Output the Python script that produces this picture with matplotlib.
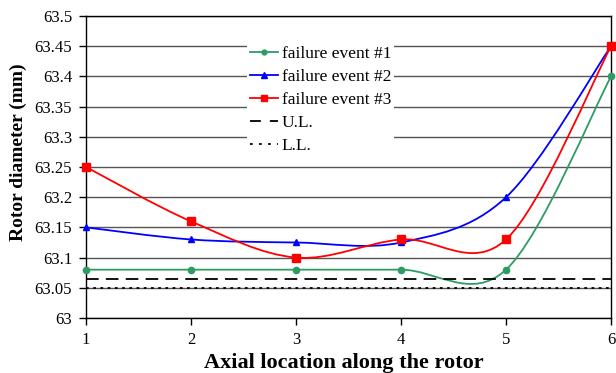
import numpy as np
import matplotlib
matplotlib.use("Agg")
import matplotlib.pyplot as plt
from matplotlib.path import Path
from matplotlib.patches import PathPatch
from matplotlib.lines import Line2D

plt.rcParams['font.family'] = ['Liberation Serif', 'DejaVu Serif']

x = [1, 2, 3, 4, 5, 6]
event1 = [63.08, 63.08, 63.08, 63.08, 63.08, 63.40]
event2 = [63.15, 63.13, 63.125, 63.125, 63.20, 63.45]
event3 = [63.25, 63.16, 63.10, 63.13, 63.13, 63.45]
upper_limit = 63.065
lower_limit = 63.05
labels = ['failure event #1', 'failure event #2', 'failure event #3', 'U.L.', 'L.L.']
ytick_labels = ['63', '63.05', '63.1', '63.15', '63.2', '63.25', '63.3', '63.35', '63.4', '63.45', '63.5']

def smooth_path(xs, ys):
    xs = np.asarray(xs, float); ys = np.asarray(ys, float)
    n = len(xs)
    verts = [(xs[0], ys[0])]
    codes = [Path.MOVETO]
    for i in range(n - 1):
        p0 = np.array([xs[max(i - 1, 0)], ys[max(i - 1, 0)]])
        p1 = np.array([xs[i], ys[i]])
        p2 = np.array([xs[i + 1], ys[i + 1]])
        p3 = np.array([xs[min(i + 2, n - 1)], ys[min(i + 2, n - 1)]])
        c1 = p1 + (p2 - p0) / 6.0
        c2 = p2 - (p3 - p1) / 6.0
        verts += [tuple(c1), tuple(c2), tuple(p2)]
        codes += [Path.CURVE4] * 3
    return Path(verts, codes)

fig = plt.figure(figsize=(6.16, 3.73), dpi=100)
ax = fig.add_axes([0.1396, 0.1475, 0.8524, 0.8096])

ax.set_xlim(1, 6)
ax.set_ylim(63.0, 63.5)
ax.set_yticks(np.linspace(63.0, 63.5, len(ytick_labels)))
ax.set_yticklabels(ytick_labels)
ax.set_xticks(x)
ax.yaxis.grid(True, color='#555555', linewidth=1.0)
ax.set_axisbelow(True)

series = [
    (event1, '#2e9b63', 'o', 4.5, 3.5),
    (event2, '#0000ff', '^', 5, 4),
    (event3, '#ff0000', 's', 5.5, 4),
]
handles = []
for ys, col, mk, ms, lms in series:
    ax.add_patch(PathPatch(smooth_path(x, ys), facecolor='none', edgecolor=col, linewidth=1.3, zorder=3))
    ax.plot(x, ys, linestyle='none', marker=mk, color=col, markersize=ms, zorder=4, clip_on=False)
    handles.append(Line2D([], [], color=col, marker=mk, markersize=lms, linewidth=1.3))

ax.axhline(upper_limit, color='black', linestyle=(0, (7, 4)), linewidth=1.3, zorder=3)
ax.axhline(lower_limit, color='black', linestyle=(0, (1.5, 2.5)), linewidth=1.3, zorder=3)
handles.append(Line2D([], [], color='black', linestyle=(0, (6, 5)), linewidth=1.3))
handles.append(Line2D([], [], color='black', linestyle=(0, (1.5, 3.5)), linewidth=1.3))

leg = ax.legend(handles, labels, loc='upper left', bbox_to_anchor=(0.307, 0.91),
                frameon=True, fancybox=False, framealpha=1, edgecolor='white',
                fontsize=12.5, handlelength=1.6, handletextpad=0.25,
                labelspacing=0.4, borderpad=0.15, borderaxespad=0)
leg.get_frame().set_linewidth(0)

for s in ax.spines.values():
    s.set_color('black')
    s.set_linewidth(1.0)
ax.tick_params(axis='both', direction='out', length=5, width=1, labelsize=12, colors='black')
ax.tick_params(axis='y', pad=5)
ax.tick_params(axis='x', pad=5)

ax.set_xlabel('Axial location along the rotor', fontsize=16, fontweight='bold')
ax.xaxis.set_label_coords(0.491, -0.115)
ax.set_ylabel('Rotor diameter (mm)', fontsize=14, fontweight='bold')
ax.yaxis.set_label_coords(-0.112, 0.55)

fig.savefig('out.png', dpi=100)
